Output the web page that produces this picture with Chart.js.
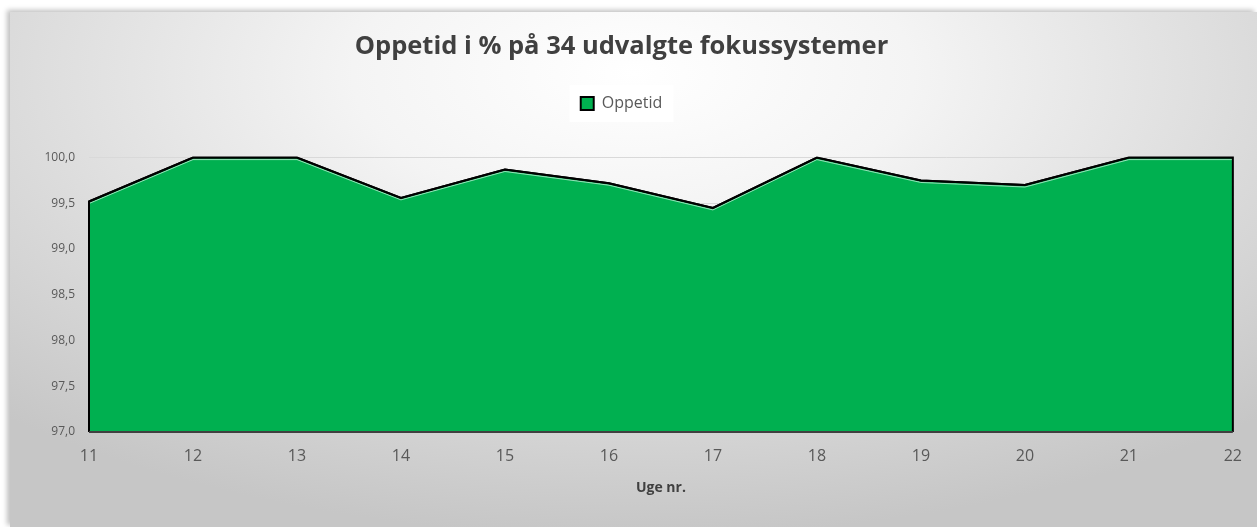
<!DOCTYPE html>
<html>
<head>
<meta charset="utf-8">
<script src="https://cdn.jsdelivr.net/npm/chart.js@4.4.1/dist/chart.umd.min.js"></script>
<style>
  html, body { margin: 0; padding: 0; background: #fff; }
  #wrap {
    position: absolute; left: 10px; top: 12px; width: 1247px; height: 515px;
    background: radial-gradient(ellipse 75% 90% at 50% 12%, #ffffff 0%, #f4f4f4 30%, #d9d9d9 70%, #c6c6c6 100%);
    box-shadow: -3px -2px 5px rgba(0,0,0,0.25);
  }
  canvas { display: block; }
</style>
</head>
<body>
<div id="wrap"><canvas id="uptimeChart" width="1247" height="515"></canvas></div>
<script>
const weeks = ["11", "12", "13", "14", "15", "16", "17", "18", "19", "20", "21", "22"];
const uptime = [99.52, 100.0, 100.0, 99.56, 99.87, 99.72, 99.45, 100.0, 99.75, 99.70, 100.0, 100.0];
const yMin = 97.0;
const yMax = 100.0;
const yStep = 0.5;

const fontFamily = "'Open Sans', 'Noto Sans', sans-serif";

// outline round the whole area, like the Excel chart
const areaOutline = {
    id: "areaOutline",
    afterDatasetsDraw(chart) {
        const pts = chart.getDatasetMeta(0).data;
        const base = chart.scales.y.getPixelForValue(yMin);
        const ctx = chart.ctx;
        ctx.save();
        // thin light line just under the top edge
        ctx.beginPath();
        pts.forEach((p, i) => i ? ctx.lineTo(p.x, p.y + 2) : ctx.moveTo(p.x, p.y + 2));
        ctx.strokeStyle = "rgba(255,255,255,0.6)";
        ctx.lineWidth = 1;
        ctx.stroke();

        ctx.beginPath();
        ctx.moveTo(pts[0].x, base);
        pts.forEach(p => ctx.lineTo(p.x, p.y));
        ctx.lineTo(pts[pts.length - 1].x, base);
        ctx.strokeStyle = "#000";
        ctx.lineWidth = 2;
        ctx.lineJoin = "miter";
        ctx.stroke();
        ctx.beginPath();
        ctx.moveTo(pts[0].x, base);
        ctx.lineTo(pts[pts.length - 1].x, base);
        ctx.strokeStyle = "#404040";
        ctx.lineWidth = 2;
        ctx.stroke();
        ctx.restore();
    }
};

// white box behind the legend, and extra room below it
const legendBox = {
    id: "legendBox",
    afterInit(chart) {
        const lg = chart.legend;
        const fit = lg.fit;
        lg.fit = function () {
            fit.call(this);
            this.height += 36;
        };
    },
    beforeDraw(chart) {
        const lg = chart.legend;
        if (!lg || !lg.legendHitBoxes.length) return;
        const hb = lg.legendHitBoxes[0];
        const ctx = chart.ctx;
        ctx.save();
        ctx.fillStyle = "rgba(255,255,255,0.85)";
        const w = 104, h = 37;
        const cx = hb.left + hb.width / 2;
        const cy = hb.top + hb.height / 2;
        ctx.fillRect(cx - w / 2, cy - h / 2, w, h);
        ctx.restore();
    }
};

new Chart(document.getElementById("uptimeChart"), {
    type: "line",
    data: {
        labels: weeks,
        datasets: [{
            label: "Oppetid",
            data: uptime,
            backgroundColor: "#00b050",
            borderColor: "#000",
            borderWidth: 2,
            fill: "start",
            pointRadius: 0,
            tension: 0
        }]
    },
    options: {
        responsive: false,
        animation: false,
        layout: { padding: { left: 0, right: 24, top: 0, bottom: 31 } },
        plugins: {
            title: {
                display: true,
                text: "Oppetid i % på 34 udvalgte fokussystemer",
                color: "#404040",
                font: { family: fontFamily, size: 25.5, weight: "bold" },
                padding: { top: 19, bottom: 30 }
            },
            legend: {
                display: true,
                labels: {
                    color: "#595959",
                    font: { family: fontFamily, size: 16 },
                    boxWidth: 13,
                    boxHeight: 13,
                    padding: 4,
                    generateLabels: (chart) => [{
                        text: "Oppetid",
                        fillStyle: "#00b050",
                        strokeStyle: "#000",
                        lineWidth: 2,
                        fontColor: "#595959",
                        datasetIndex: 0
                    }]
                }
            },
            tooltip: { enabled: false }
        },
        scales: {
            x: {
                offset: false,
                grid: { display: false, drawTicks: false },
                border: { display: false },
                ticks: {
                    color: "#595959",
                    font: { family: fontFamily, size: 16 },
                    padding: 15,
                    maxRotation: 0
                },
                title: {
                    display: true,
                    text: "Uge nr.",
                    color: "#404040",
                    font: { family: fontFamily, size: 14, weight: "bold" },
                    padding: { top: -2, bottom: 0 }
                }
            },
            y: {
                min: yMin,
                max: yMax,
                grid: { color: "#d9d9d9", drawTicks: false },
                border: { display: false },
                ticks: {
                    stepSize: yStep,
                    color: "#595959",
                    font: { family: fontFamily, size: 12 },
                    padding: 14,
                    callback: v => v.toFixed(1).replace(".", ",")
                },
                afterFit: s => { s.width = 79; }
            }
        }
    },
    plugins: [legendBox, areaOutline]
});
</script>
</body>
</html>
